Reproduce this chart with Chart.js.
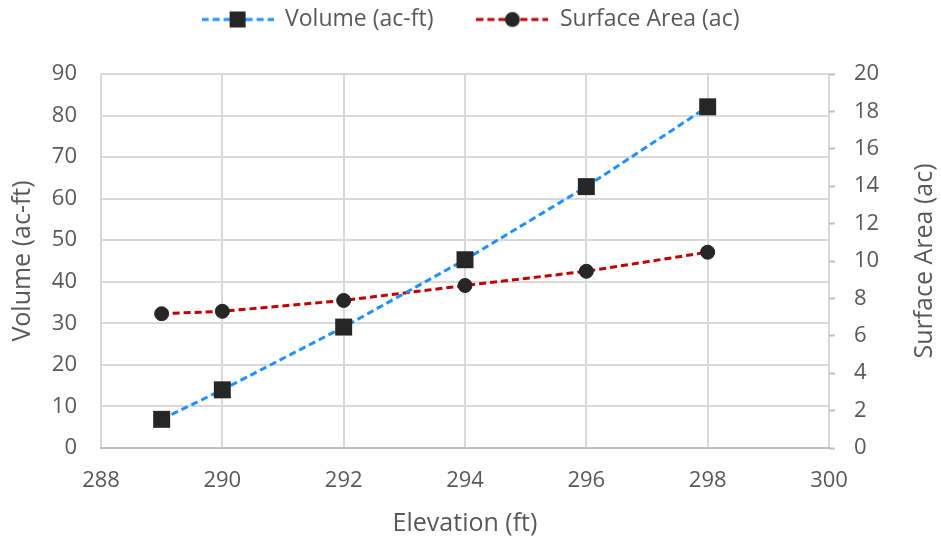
<!DOCTYPE html>
<html>
<head>
<meta charset="utf-8">
<script src="https://cdn.jsdelivr.net/npm/chart.js@4/dist/chart.umd.min.js"></script>
<style>
  html, body { margin: 0; padding: 0; background: #fff; }
  #wrap { width: 941px; height: 539px; }
</style>
</head>
<body>
<div id="wrap"><canvas id="chart-storage"></canvas></div>
<script>
var elevation = [289, 290, 292, 294, 296, 298];
var volume = [6.9, 14.0, 29.1, 45.3, 62.9, 82.1];
var surfaceArea = [7.18, 7.31, 7.89, 8.69, 9.45, 10.47];

var textColor = "#595959";
var gridColor = "#d9d9d9";
var fontFamily = "'Open Sans', 'Noto Sans', sans-serif";

// little "---marker---" swatch for the legend
function legendIcon(color, style) {
  var c = document.createElement("canvas");
  c.width = 72;
  c.height = 20;
  var g = c.getContext("2d");
  g.strokeStyle = color;
  g.lineWidth = 3;
  g.setLineDash([7, 4]);
  g.beginPath();
  g.moveTo(0, 10);
  g.lineTo(72, 10);
  g.stroke();
  g.fillStyle = "#262626";
  if (style === "rect") {
    g.fillRect(28, 2, 16, 16);
  } else {
    g.beginPath();
    g.arc(36, 10, 7.5, 0, Math.PI * 2);
    g.fill();
  }
  return c;
}

// push the plot area down below the legend row
var legendSpacer = {
  id: "legendSpacer",
  beforeInit: function (chart) {
    var fit = chart.legend.fit;
    chart.legend.fit = function () {
      fit.call(chart.legend);
      this.height += 33;
    };
  }
};

// right axis title, reading bottom to top like the left one
var rightTitle = {
  id: "rightTitle",
  afterDraw: function (chart) {
    var scale = chart.scales.y1;
    var c = chart.ctx;
    c.save();
    c.translate(scale.right - 16, (scale.top + scale.bottom) / 2);
    c.rotate(-Math.PI / 2);
    c.fillStyle = textColor;
    c.font = "25px " + fontFamily;
    c.textAlign = "center";
    c.textBaseline = "middle";
    c.fillText("Surface Area (ac)", 0, 0);
    c.restore();
  }
};

var ctx = document.getElementById("chart-storage").getContext("2d");

new Chart(ctx, {
  type: "line",
  data: {
    datasets: [
      {
        label: "Volume (ac-ft)",
        data: elevation.map(function (e, i) { return { x: e, y: volume[i] }; }),
        yAxisID: "y",
        borderColor: "#1e90ff",
        borderWidth: 3,
        borderDash: [7, 4],
        pointStyle: "rect",
        pointRadius: 12,
        pointBackgroundColor: "#262626",
        pointBorderColor: "#262626",
        pointBorderWidth: 0,
        tension: 0,
        fill: false
      },
      {
        label: "Surface Area (ac)",
        data: elevation.map(function (e, i) { return { x: e, y: surfaceArea[i] }; }),
        yAxisID: "y1",
        borderColor: "#c00000",
        borderWidth: 3,
        borderDash: [7, 4],
        pointStyle: "circle",
        pointRadius: 7,
        pointBackgroundColor: "#262626",
        pointBorderColor: "#262626",
        pointBorderWidth: 1,
        tension: 0,
        fill: false
      }
    ]
  },
  options: {
    responsive: true,
    maintainAspectRatio: false,
    animation: false,
    layout: { padding: { top: -35, left: 0, right: 0, bottom: 0 } },
    plugins: {
      tooltip: { enabled: false },
      legend: {
        display: true,
        position: "top",
        labels: {
          usePointStyle: true,
          pointStyleWidth: 72,
          padding: 43,
          color: textColor,
          font: { size: 23, family: fontFamily },
          generateLabels: function (chart) {
            return chart.data.datasets.map(function (ds, i) {
              return {
                text: ds.label,
                pointStyle: legendIcon(ds.borderColor, ds.pointStyle),
                fontColor: textColor,
                lineWidth: 0,
                strokeStyle: "transparent",
                fillStyle: "transparent",
                hidden: false,
                datasetIndex: i
              };
            });
          }
        }
      }
    },
    scales: {
      x: {
        type: "linear",
        min: 288,
        max: 300,
        afterFit: function (scale) { scale.height = 91; },
        grid: { color: gridColor, lineWidth: 2, drawTicks: false },
        border: { color: "#bfbfbf", width: 2 },
        ticks: {
          stepSize: 2,
          padding: 20,
          color: textColor,
          font: { size: 22, family: fontFamily }
        },
        title: {
          display: true,
          text: "Elevation (ft)",
          color: textColor,
          padding: { top: 0, bottom: 0 },
          font: { size: 25, family: fontFamily }
        }
      },
      y: {
        position: "left",
        min: 0,
        max: 90,
        afterFit: function (scale) { scale.width = 101; },
        grid: { color: gridColor, lineWidth: 2, drawTicks: false },
        border: { display: false },
        ticks: {
          stepSize: 10,
          padding: 24,
          color: textColor,
          font: { size: 22, family: fontFamily }
        },
        title: {
          display: true,
          text: "Volume (ac-ft)",
          color: textColor,
          padding: { top: 8, bottom: 0 },
          font: { size: 25, family: fontFamily }
        }
      },
      y1: {
        position: "right",
        min: 0,
        max: 20,
        afterFit: function (scale) { scale.width = 112; },
        grid: {
          display: true,
          drawOnChartArea: false,
          drawTicks: true,
          tickLength: 6,
          tickColor: "#bfbfbf",
          tickWidth: 2
        },
        border: { display: false },
        ticks: {
          stepSize: 2,
          padding: 19,
          color: textColor,
          font: { size: 22, family: fontFamily }
        },
        title: { display: false }
      }
    }
  },
  plugins: [legendSpacer, rightTitle]
});
</script>
</body>
</html>
